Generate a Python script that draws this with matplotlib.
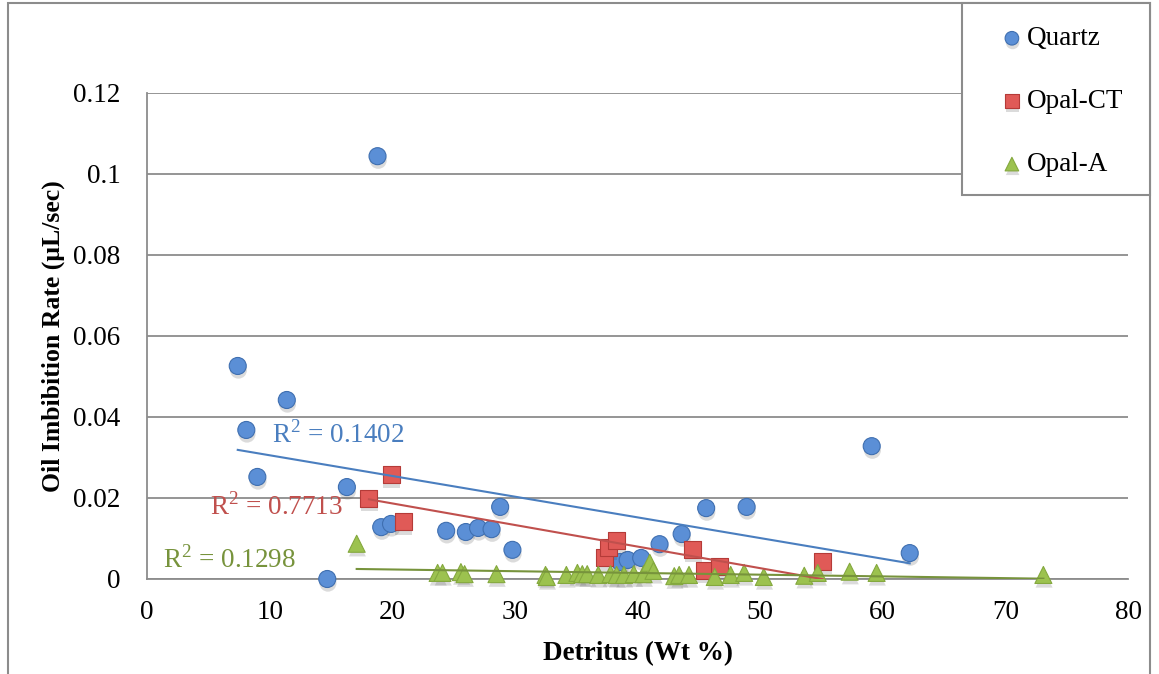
import numpy as np
import matplotlib
matplotlib.use("Agg")
import matplotlib.pyplot as plt
import matplotlib.patheffects as pe
from matplotlib.patches import Rectangle

## Datos
quartz_x = [7.4, 8.1, 11.4, 9.0, 18.8, 16.3, 14.7, 19.1, 19.9, 24.4, 26.0, 27.0, 28.1,
            28.8, 29.8, 38.6, 39.2, 40.3, 41.8, 43.6, 45.6, 48.9, 59.1, 62.2]
quartz_y = [0.0526, 0.0368, 0.0442, 0.0252, 0.1044, 0.0227, 0.0, 0.0128, 0.0136, 0.0119,
            0.0116, 0.0126, 0.0123, 0.0178, 0.0072, 0.0042, 0.0047, 0.0052, 0.0086,
            0.0111, 0.0175, 0.0178, 0.0328, 0.0064]

opalct_x = [18.1, 19.9, 20.9, 37.3, 37.6, 38.3, 44.5, 45.5, 46.7, 55.1]
opalct_y = [0.0198, 0.0257, 0.0141, 0.0052, 0.0077, 0.0096, 0.0074, 0.0022, 0.0032, 0.0044]

opala_x = [17.1, 23.7, 24.1, 25.6, 25.9, 28.5, 32.5, 32.6, 34.2, 35.1, 35.5, 35.9, 36.8,
           37.8, 38.3, 38.9, 39.7, 40.5, 41.0, 41.3, 43.0, 43.4, 44.2, 46.3, 47.6, 48.7,
           50.3, 53.6, 54.7, 57.3, 59.5, 73.1]
opala_y = [0.0087, 0.0015, 0.0015, 0.0017, 0.0012, 0.0012, 0.0010, 0.0005, 0.0010, 0.0015,
           0.0012, 0.0012, 0.0010, 0.0012, 0.0010, 0.0010, 0.0012, 0.0012, 0.0040, 0.0020,
           0.0007, 0.0010, 0.0010, 0.0005, 0.0010, 0.0015, 0.0005, 0.0008, 0.0015, 0.0018,
           0.0015, 0.0010]

r2_labels = ["R$^2$ = 0.1402", "R$^2$ = 0.7713", "R$^2$ = 0.1298"]

x_ticks = [0, 10, 20, 30, 40, 50, 60, 70, 80]
y_ticks = [0, 0.02, 0.04, 0.06, 0.08, 0.1, 0.12]
y_ticklabels = ["0", "0.02", "0.04", "0.06", "0.08", "0.1", "0.12"]

serif = ['Liberation Serif', 'DejaVu Serif']
plt.rcParams['font.family'] = serif
plt.rcParams['mathtext.fontset'] = 'custom'
plt.rcParams['mathtext.rm'] = 'Liberation Serif'

fig = plt.figure(figsize=(11.59, 6.74), dpi=100)
ax = fig.add_axes([147/1159, 1-579/674, 981/1159, 486/674])

sombra = [pe.SimplePatchShadow(offset=(0.5, -3), alpha=0.2, shadow_rgbFace='0.3'), pe.Normal()]

series = [
    (quartz_x, quartz_y, 'o', '#5B8FD6', '#3F6FB0', 'Quartz', 150, '#4A7EBF'),
    (opalct_x, opalct_y, 's', '#E05A57', '#B53B38', 'Opal-CT', 150, '#C0504D'),
    (opala_x, opala_y, '^', '#9CC24F', '#84A83E', 'Opal-A', 150, '#77933C'),
]
handles = []
for xs, ys, mk, fc, ec, lab, s, lc in series:
    h = ax.scatter(xs, ys, marker=mk, s=s, facecolor=fc, edgecolor=ec, linewidth=0.8,
                   label=lab, zorder=3, clip_on=False)
    h.set_path_effects(sombra)
    handles.append(h)

# Líneas de tendencia (ajuste lineal)
r2_pos = [(10.2, 0.0356), (5.1, 0.0178), (1.3, 0.0049)]
for (xs, ys, mk, fc, ec, lab, s, lc), lbl, pos in zip(series, r2_labels, r2_pos):
    xs = np.array(xs)
    p = np.polyfit(xs, ys, 1)
    xx = np.array([xs.min(), xs.max()])
    ax.plot(xx, np.polyval(p, xx), color=lc, lw=1.5, zorder=4)
    ax.text(pos[0], pos[1], lbl, color=lc, fontsize=19.5, va='center', ha='left', zorder=5)

ax.set_xlim(0, 80)
ax.set_ylim(0, 0.12)
ax.set_xticks(x_ticks)
ax.set_yticks(y_ticks)
ax.set_yticklabels(y_ticklabels)
ax.tick_params(length=0, labelsize=19.5)
ax.tick_params(axis='y', pad=19)
ax.tick_params(axis='x', pad=15)
ax.grid(axis='y', color='#8C8C8C', lw=1.3)
ax.set_axisbelow(True)
for sp in ['top', 'right']:
    ax.spines[sp].set_visible(False)
ax.spines['left'].set_color('#8C8C8C')
ax.spines['bottom'].set_color('#8C8C8C')
ax.spines['left'].set_linewidth(1.3)
ax.spines['bottom'].set_linewidth(1.3)

ax.set_xlabel("Detritus (Wt %)", fontsize=19.5, fontweight='bold', labelpad=12)
ax.set_ylabel("Oil Imbibition Rate (μL/sec)", fontsize=18.5, fontweight='bold', labelpad=6)

# Marco exterior y caja de leyenda
fig.patches.append(Rectangle((8/1159, -0.05), 1142/1159, 1.05 - 3/674, transform=fig.transFigure,
                             fill=False, edgecolor='#8C8C8C', lw=1.5))
fig.patches.append(Rectangle((962/1159, 1-195/674), 188/1159, 192/674, transform=fig.transFigure,
                             facecolor='white', edgecolor='#8C8C8C', lw=1.5, zorder=5))
leg = fig.legend(handles=handles, loc='upper left', bbox_to_anchor=(974/1159, 1-2/674),
                 frameon=False, fontsize=19.5, labelspacing=1.4, handletextpad=0.05,
                 handlelength=1.0, markerscale=0.8)
leg.set_zorder(6)

plt.savefig("out.png", dpi=100)
